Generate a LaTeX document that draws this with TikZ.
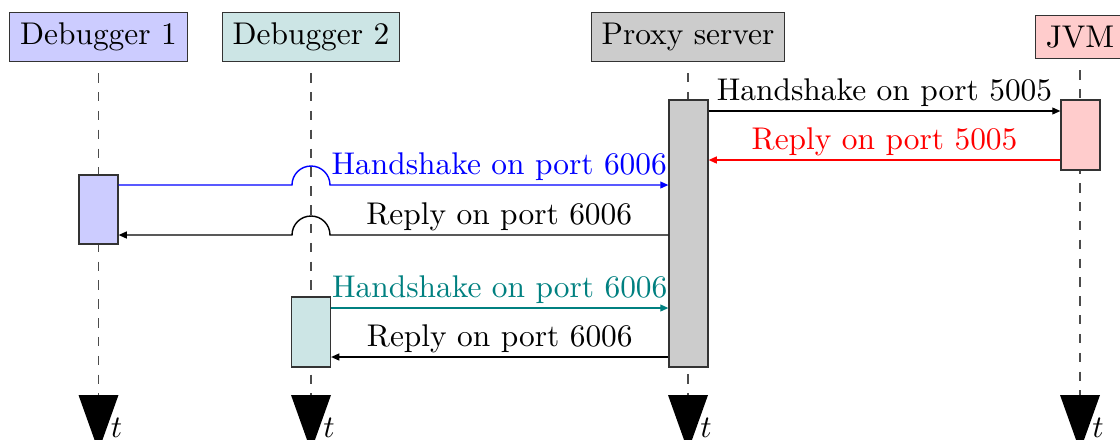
\documentclass[tikz,border=0pt]{standalone}
\usetikzlibrary{arrows.meta,calc}
\begin{document}
\begin{tikzpicture}[x=0.3185pt,y=-0.3185pt,
  inst/.style={draw=black!80, line width=0.4pt, inner sep=0.3333em},
  act/.style={draw=black!80, line width=0.4pt, minimum width=12.4pt, inner sep=0pt},
  life/.style={dashed, black!70, line width=0.4pt},
  msg/.style={line width=0.45pt, -{Triangle[length=2.6pt,width=2.2pt]}},
  lbl/.style={anchor=base, yshift=3.35pt, inner sep=0pt},
  tlabel/.style={inner sep=0pt}]
\useasboundingbox (0,0) rectangle (1120,439);
\clip (0,0) rectangle (1120,439);

% participants
\node[inst, fill=blue!20]  (d1) at (98.5,37) {Debugger 1};
\node[inst, fill=teal!20]  (d2) at (311,37)  {Debugger 2};
\node[inst, fill=black!20] (px) at (688,37)  {Proxy server};
\node[inst, fill=red!20]   (jvm) at (1080,37) {JVM};

% lifeline ends
\coordinate (d1e) at (98.5,395);
\coordinate (d2e) at (311,395);
\coordinate (pxe) at (688,395);
\coordinate (jvme) at (1080,395);

% lifelines
\foreach \n in {d1,d2,px,jvm}{
  \draw[life] ($(\n.south)+(0,11)$) -- (\n e);
  \fill (\n e) ++(-20,0) -- ++(40,0) -- ++(-20,56) -- cycle;
  \node[tlabel] at ($(\n e)+(18,33)$) {$t$};
}

% activations
\node[act, fill=blue!20,  minimum height=22pt]   (d1a)  at (98.5,209.5) {};
\node[act, fill=teal!20,  minimum height=22.3pt] (d2a)  at (311,332)   {};
\node[act, fill=black!20, minimum height=85pt]   (pxa)  at (688.5,233.5) {};
\node[act, fill=red!20,   minimum height=22.3pt] (jvma) at (1080.5,135) {};

% message levels
\coordinate (m1) at (0,111);
\coordinate (m2) at (0,160);
\coordinate (m3) at (0,185);
\coordinate (m4) at (0,235);
\coordinate (m5) at (0,308);
\coordinate (m6) at (0,357);

% proxy <-> JVM
\draw[msg] (pxa.east |- m1) -- node[lbl] {Handshake on port 5005} (jvma.west |- m1);
\draw[msg, red] (jvma.west |- m2) -- node[lbl] {Reply on port 5005} (pxa.east |- m2);

% debugger 1, jumping over the debugger 2 lifeline
\draw[msg, blue] (d1a.east |- m3) -- ($(d2.south |- m3)+(-19,0)$)
  arc[start angle=180, end angle=0, radius=6.05pt]
  -- node[lbl] {Handshake on port 6006} (pxa.west |- m3);
\draw[msg] (pxa.west |- m4) -- node[lbl] {Reply on port 6006} ($(d2.south |- m4)+(19,0)$)
  arc[start angle=0, end angle=180, radius=6.05pt]
  -- (d1a.east |- m4);

% debugger 2
\draw[msg, teal] (d2a.east |- m5) -- node[lbl] {Handshake on port 6006} (pxa.west |- m5);
\draw[msg] (pxa.west |- m6) -- node[lbl] {Reply on port 6006} (d2a.east |- m6);
\end{tikzpicture}
\end{document}
